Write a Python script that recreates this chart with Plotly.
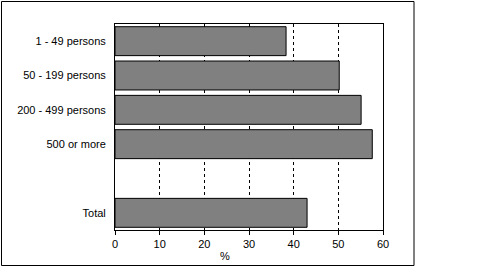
import plotly.graph_objects as go

categories = ["1 - 49 persons", "50 - 199 persons", "200 - 499 persons", "500 or more", " ", "Total"]
values = [38.3, 50.2, 55.1, 57.6, None, 43.0]
x_ticks = [0, 10, 20, 30, 40, 50, 60]
x_title = "%"

W, H = 500, 267
L, R, T, B = 115, 117, 24, 37
pw, ph = W - L - R, H - T - B

def px_x(p):
    return (p - L) / pw

def px_y(p):
    return (H - B - p) / ph

fig = go.Figure(go.Bar(
    y=categories, x=values, orientation="h",
    marker=dict(color="#808080", line=dict(color="black", width=1)),
))

font = dict(family="Arial, Liberation Sans, sans-serif", size=11, color="black")

fig.update_layout(
    width=W, height=H,
    margin=dict(l=L, r=R, t=T, b=B, pad=0),
    paper_bgcolor="white", plot_bgcolor="white",
    bargap=0.157,
    showlegend=False,
    font=font,
    xaxis=dict(
        range=[0, 60], tickvals=x_ticks, ticktext=[str(v) for v in x_ticks],
        showgrid=True, gridcolor="black", gridwidth=1, griddash="3px,3px",
        showline=True, linecolor="black", linewidth=1, mirror=True,
        ticks="outside", ticklen=4, tickcolor="black", tickwidth=1,
        zeroline=False, tickfont=font,
    ),
    yaxis=dict(
        type="category", categoryorder="array", categoryarray=categories,
        autorange="reversed",
        showgrid=False, showline=True, linecolor="black", linewidth=1, mirror=True,
        ticks="", ticklabelstandoff=6, tickfont=font,
    ),
    annotations=[dict(
        text=x_title, xref="paper", yref="paper",
        x=px_x(225), y=px_y(256), showarrow=False,
        xanchor="center", yanchor="middle", font=font,
    )],
    shapes=[dict(
        type="rect", xref="paper", yref="paper",
        x0=px_x(1.5), x1=px_x(414), y0=px_y(1.5), y1=px_y(265.5),
        line=dict(color="black", width=1), fillcolor="rgba(0,0,0,0)",
        layer="below",
    )],
)

fig.write_html("out.html")
